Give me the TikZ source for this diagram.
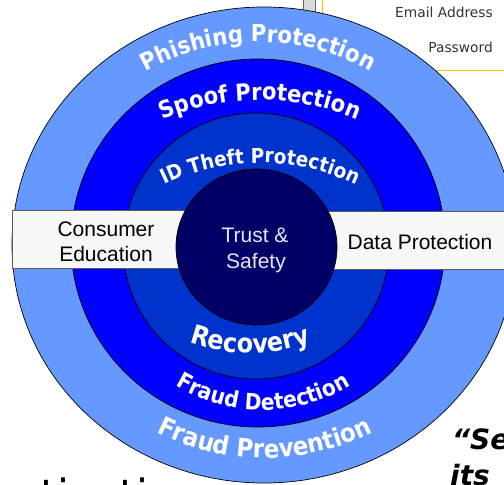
\documentclass[tikz,border=0pt]{standalone}
\usepackage{fontspec}
\setmainfont{Liberation Sans}
\newfontfamily\arcfont{DejaVu Sans}[FakeStretch=0.9]
\newfontfamily\uifont{DejaVu Sans}
\usetikzlibrary{decorations.text}
\definecolor{ringA}{HTML}{6699FF}
\definecolor{ringB}{HTML}{0000FF}
\definecolor{ringC}{HTML}{0033CC}
\definecolor{core}{HTML}{000066}
\definecolor{barfill}{HTML}{F7F7F7}
\definecolor{bargray}{HTML}{5A5A5A}
\definecolor{gold}{HTML}{F5C200}
\definecolor{uitext}{HTML}{333333}
\definecolor{coretext}{HTML}{E6E6FF}
\tikzset{
  ring/.style={draw=black, line width=0.7pt},
  bar/.style={draw=bargray, fill=barfill, line width=1pt},
  bartext/.style={font=\fontsize{21}{24.4}\selectfont, align=center, inner sep=0pt},
  arctext/.style={decorate, decoration={text along path, text align=center, text color=white}},
  uilabel/.style={font=\uifont\fontsize{13.8}{14}\selectfont, text=uitext, inner sep=0pt, anchor=base east},
  cuttext/.style={inner sep=0pt, anchor=base west},
}
\begin{document}
\begin{tikzpicture}[x=1pt,y=1pt]
\useasboundingbox (0,0) rectangle (504,485);
\clip (0,0) rectangle (504,485);
\fill[white] (0,0) rectangle (504,485);
% UI fragment top right
\draw[gold, line width=1pt, fill=white] (322,540) |- (520,414);
\draw[draw=gray!80!black, fill=gray!30, line width=0.8pt] (303.5,470) rectangle (315,500);
\node[uilabel] (email) at (493,467) {Email Address};
\node[uilabel] (pwd) at (493,432) {Password};
% rings
\filldraw[ring, fill=ringA] (264,240) ellipse [x radius=252, y radius=238];
\filldraw[ring, fill=ringB] (258,242) ellipse [x radius=187, y radius=184];
\filldraw[ring, fill=ringC] (256,239) circle [radius=133];
% bars
\filldraw[bar] (12.5,216) rectangle (200,274);
\filldraw[bar] (320,215) rectangle (508,273);
% core
\filldraw[ring, fill=core] (256.5,238) ellipse [x radius=80.5, y radius=78];
% bar texts
\node[bartext, anchor=base] (cons) at (106,248) {Consumer};
\node[bartext, anchor=base] (edu) at (106,223.5) {Education};
\node[bartext, anchor=base] (data) at (420,235) {Data Protection};
\node[bartext, anchor=base, text=coretext] (trust) at (255,242.7) {Trust \&};
\node[bartext, anchor=base, text=coretext] (safety) at (256,216.5) {Safety};
% arc texts (top)
\path[arctext, decoration={text={|\arcfont\bfseries\fontsize{23.5}{24}\selectfont|Phishing Protection}}]
  (258,213) ++(150:230) arc[start angle=150, end angle=30, radius=230];
\path[arctext, decoration={text={|\arcfont\bfseries\fontsize{23.5}{24}\selectfont|Spoof Protection}}]
  (260,135) ++(150:250) arc[start angle=150, end angle=30, radius=250];
\path[arctext, decoration={text={|\arcfont\bfseries\fontsize{20.5}{21}\selectfont|ID Theft Protection}}]
  (260,102) ++(150:220) arc[start angle=150, end angle=30, radius=220];
% arc texts (bottom)
\path[arctext, decoration={text={|\arcfont\bfseries\fontsize{26.5}{27}\selectfont|Recovery}}]
  (250,312) ++(210:180) arc[start angle=210, end angle=330, radius=180];
\path[arctext, decoration={text={|\arcfont\bfseries\fontsize{22.5}{23}\selectfont|Fraud Detection}}]
  (263,245) ++(210:170) arc[start angle=210, end angle=330, radius=170];
\path[arctext, decoration={text={|\arcfont\bfseries\fontsize{25.5}{26}\selectfont|Fraud Prevention}}]
  (265,267) ++(210:240) arc[start angle=210, end angle=330, radius=240];
% cut-off texts at the edges
\node[cuttext, font=\uifont\bfseries\itshape\fontsize{28}{30}\selectfont] (se) at (452,35) {“Se};
\node[cuttext, font=\uifont\bfseries\itshape\fontsize{28}{30}\selectfont] (its) at (450,-1) {its};
\node[cuttext, font=\uifont\fontsize{43}{45}\selectfont] (auth) at (-13,-25.7) {entication};
\end{tikzpicture}
\end{document}
